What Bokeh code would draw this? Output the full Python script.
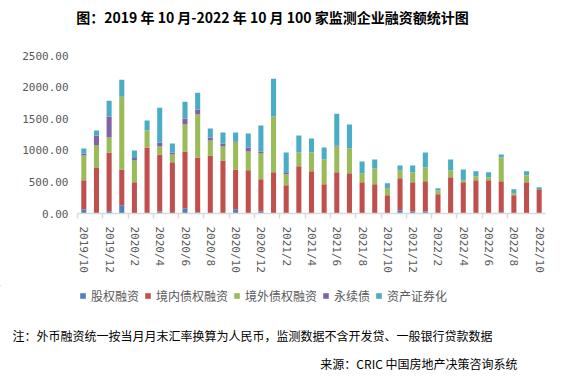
from bokeh.plotting import figure
from bokeh.layouts import column, row
from bokeh.models import (Range1d, FixedTicker, PrintfTickFormatter, Legend, LegendItem,
                          Label, ColumnDataSource)
from bokeh.embed import file_html
from bokeh.resources import INLINE

months = ["2019/10", "2019/11", "2019/12",
          "2020/1", "2020/2", "2020/3", "2020/4", "2020/5", "2020/6",
          "2020/7", "2020/8", "2020/9", "2020/10", "2020/11", "2020/12",
          "2021/1", "2021/2", "2021/3", "2021/4", "2021/5", "2021/6",
          "2021/7", "2021/8", "2021/9", "2021/10", "2021/11", "2021/12",
          "2022/1", "2022/2", "2022/3", "2022/4", "2022/5", "2022/6",
          "2022/7", "2022/8", "2022/9", "2022/10"]

equity = [68, 0, 37, 131, 0, 0, 32, 0, 84, 21, 0, 0, 68, 0, 32,
          0, 0, 0, 0, 0, 0, 0, 0, 0, 0, 52, 32,
          32, 0, 0, 0, 0, 0, 21, 0, 0, 0]
domestic = [457, 719, 929, 567, 494, 1045, 903, 809, 898, 866, 919, 840, 630, 683, 509,
            651, 446, 746, 667, 462, 651, 635, 494, 462, 289, 505, 462,
            477, 305, 572, 494, 525, 525, 488, 289, 494, 383]
foreign = [394, 357, 236, 1150, 346, 273, 126, 126, 425, 678, 236, 221, 426, 299, 409,
           882, 174, 220, 299, 394, 410, 394, 141, 252, 110, 126, 157,
           221, 63, 111, 31, 63, 47, 378, 31, 110, 0]
perpetual = [31, 158, 331, 0, 37, 0, 63, 31, 95, 78, 47, 47, 15, 63, 32,
             0, 31, 0, 0, 0, 15, 0, 0, 0, 16, 0, 0,
             0, 0, 0, 0, 0, 0, 0, 0, 0, 0]
abs_sec = [79, 78, 252, 268, 121, 152, 551, 142, 267, 268, 142, 173, 142, 220, 409,
           599, 315, 268, 221, 189, 504, 378, 189, 142, 63, 78, 110,
           236, 31, 173, 173, 79, 79, 48, 63, 63, 32]

series_names = ["股权融资", "境内债权融资", "境外债权融资", "永续债", "资产证券化"]
series_keys = ["equity", "domestic", "foreign", "perpetual", "abs_sec"]
colors = ["#4F81BD", "#C0504D", "#9BBB59", "#8064A2", "#4BACC6"]
y_ticks = [0, 500, 1000, 1500, 2000, 2500]

title_text = "图：2019 年 10 月-2022 年 10 月 100 家监测企业融资额统计图"
note_text = "注：外币融资统一按当月月末汇率换算为人民币，监测数据不含开发贷、一般银行贷款数据"
source_text = "来源：CRIC 中国房地产决策咨询系统"

FONT = "Noto Sans CJK SC"
MONO = "DejaVu Sans Mono"
GREY = "#595959"
W = 568
H_TOP, H_MID, H_BOT = 30, 255, 94


def blank(h):
    f = figure(width=W, height=h, output_backend="svg", toolbar_location=None,
               x_range=Range1d(0, W), y_range=Range1d(h, 0),
               x_axis_location=None, y_axis_location=None,
               min_border=0, min_border_left=0, min_border_right=0,
               min_border_top=0, min_border_bottom=0)
    f.outline_line_color = None
    f.xgrid.visible = False
    f.ygrid.visible = False
    return f


# ---- title strip
p_top = blank(H_TOP)
p_top.add_layout(Label(x=272, y=16, text=title_text,
                       text_align="center", text_baseline="middle", text_font=FONT,
                       text_font_size="14px", text_font_style="bold", text_color="black"))

# ---- chart
idx = list(range(len(months)))
source = ColumnDataSource(dict(x=idx, equity=equity, domestic=domestic, foreign=foreign,
                               perpetual=perpetual, abs_sec=abs_sec))

p = figure(width=W, height=H_MID, output_backend="svg", toolbar_location=None,
           x_range=Range1d(-0.5, len(months) - 0.5), y_range=Range1d(0, 2500),
           min_border_left=77, min_border_right=23, min_border_top=25, min_border_bottom=72)
p.outline_line_color = None
p.xgrid.visible = False
p.ygrid.visible = False

renderers = p.vbar_stack(series_keys, x="x", width=0.4, color=colors, source=source,
                         line_color=None)

ya = p.yaxis[0]
ya.ticker = FixedTicker(ticks=y_ticks)
ya.formatter = PrintfTickFormatter(format="%.2f")
ya.axis_line_color = None
ya.major_tick_line_color = None
ya.minor_tick_line_color = None
ya.major_tick_out = 0
ya.major_label_standoff = 9
ya.major_label_text_font = MONO
ya.major_label_text_font_size = "11px"
ya.major_label_text_color = GREY

xa = p.xaxis[0]
label_pos = idx[::2]
xa.ticker = FixedTicker(ticks=label_pos, minor_ticks=[i - 0.5 for i in label_pos[:-1]])
xa.major_label_overrides = {i: months[i] for i in label_pos}
xa.axis_line_color = "#D9D9D9"
xa.axis_line_width = 1.5
xa.major_tick_line_color = None
xa.major_tick_out = 0
xa.major_tick_in = 0
xa.minor_tick_line_color = "#D9D9D9"
xa.minor_tick_line_width = 1.5
xa.minor_tick_out = 5
xa.minor_tick_in = 0
xa.major_label_standoff = 8
xa.major_label_orientation = "vertical"
xa.major_label_text_font = MONO
xa.major_label_text_font_size = "11px"
xa.major_label_text_color = GREY

# ---- legend + notes strip
p_bot = blank(H_BOT)
# off-canvas proxies that only supply the legend swatches
proxies = [p_bot.vbar(x=[-100], top=[-100], bottom=[-110], width=1, color=c, line_color=None)
           for c in colors]
legend = Legend(items=[LegendItem(label=n, renderers=[r]) for n, r in zip(series_names, proxies)],
                location=(79, 75), orientation="horizontal",
                glyph_width=7, glyph_height=7, label_standoff=5, spacing=5,
                padding=0, margin=0, border_line_color=None, background_fill_alpha=0,
                label_text_font=FONT, label_text_font_size="12px", label_text_color=GREY,
                label_height=14)
p_bot.add_layout(legend)
p_bot.add_layout(Label(x=12, y=50, text=note_text,
                       text_align="left", text_baseline="middle", text_font=FONT,
                       text_font_size="12px", text_color="black"))
p_bot.add_layout(Label(x=517, y=78, text=source_text,
                       text_align="right", text_baseline="middle", text_font=FONT,
                       text_font_size="12px", text_color="black"))

layout = column(row(p_top), p, row(p_bot), spacing=0)
open("out.html", "w").write(file_html(layout, INLINE))
